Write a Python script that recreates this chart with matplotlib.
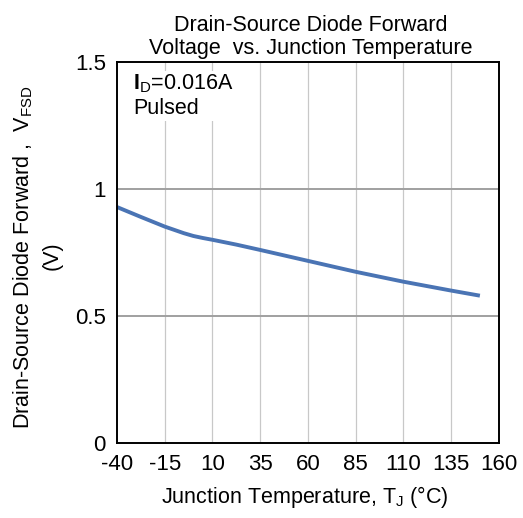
import numpy as np
import matplotlib.pyplot as plt

plt.rcParams['font.family'] = ['Liberation Sans', 'DejaVu Sans']
plt.rcParams['mathtext.fontset'] = 'custom'
plt.rcParams['mathtext.rm'] = 'Liberation Sans'
plt.rcParams['mathtext.bf'] = 'Liberation Sans:bold'

# valores
temp = [-40, -27.5, -15, -5, 0, 5, 10, 22.5, 35, 60, 85, 110, 135, 150]
vfsd = [0.929, 0.890, 0.852, 0.826, 0.815, 0.807, 0.800, 0.781, 0.760, 0.717, 0.674, 0.635, 0.600, 0.580]

xticks = [-40, -15, 10, 35, 60, 85, 110, 135, 160]
xticklabels = ['-40', '-15', '10', '35', '60', '85', '110', '135', '160']
yticks = [0, 0.5, 1, 1.5]
yticklabels = ['0', '0.5', '1', '1.5']

fs = 15.5

fig = plt.figure(figsize=(5.23, 5.18), dpi=100)
ax = fig.add_axes([0.2237, 0.1448, 0.7304, 0.7355])

ax.set_xlim(-40, 160)
ax.set_ylim(0, 1.5)
ax.set_xticks(xticks)
ax.set_xticklabels(xticklabels)
ax.set_yticks(yticks)
ax.set_yticklabels(yticklabels)
ax.tick_params(length=0, labelsize=fs + 0.5, pad=8)

# grade
for x in xticks[1:-1]:
    ax.axvline(x, color='#c8c8c8', lw=0.9, zorder=1)
for y in [0.5, 1]:
    ax.axhline(y, color='#a0a0a0', lw=1.4, zorder=1)

ax.plot(temp, vfsd, color='#4a74b4', lw=2.8, solid_capstyle='butt', zorder=3)

for s in ax.spines.values():
    s.set_linewidth(1.4)
    s.set_zorder(4)

ax.text(0.042, 0.972, r'$\mathbf{I}_{\mathregular{D}}$=0.016A' + '\nPulsed', transform=ax.transAxes,
        fontsize=fs, va='top', ha='left', linespacing=1.2,
        bbox=dict(facecolor='white', edgecolor='none', pad=1), zorder=2)

fig.text(0.595, 0.940, 'Drain-Source Diode Forward', ha='center', va='baseline', fontsize=fs)
fig.text(0.595, 0.896, 'Voltage  vs. Junction Temperature', ha='center', va='baseline', fontsize=fs)
fig.text(0.583, 0.040, r'Junction Temperature, T$_{\mathregular{J}}$ (°C)',
         ha='center', va='center', fontsize=fs)
fig.text(0.044, 0.504, r'Drain-Source Diode Forward ,  V$_{\mathregular{FSD}}$',
         ha='center', va='center', rotation=90, fontsize=fs)
fig.text(0.100, 0.507, '(V)', ha='center', va='center', rotation=90, fontsize=fs)

fig.savefig('out.png', dpi=100)
